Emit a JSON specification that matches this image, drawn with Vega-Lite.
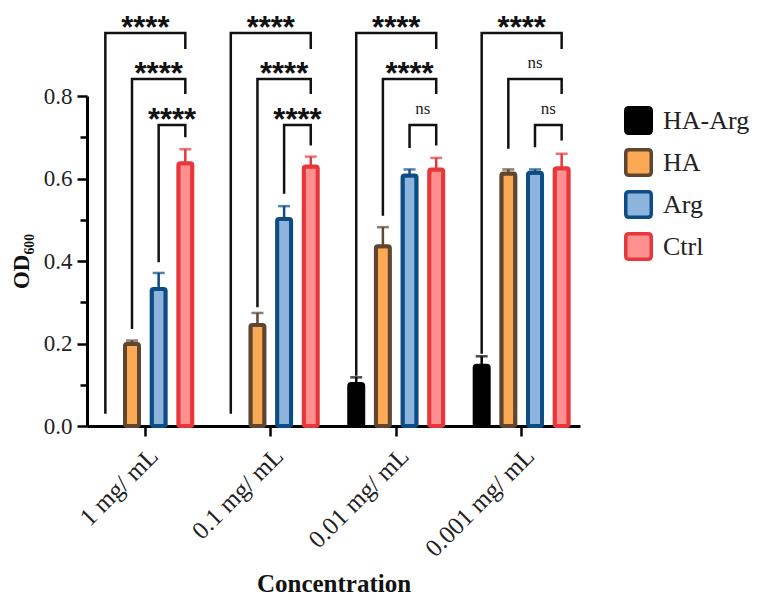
{
  "$schema": "https://vega.github.io/schema/vega-lite/v6.json",
  "width": 493,
  "height": 330,
  "padding": {"left": 10, "top": 12, "right": 5, "bottom": 5},
  "background": "white",
  "config": {
    "view": {"stroke": null},
    "font": "Liberation Serif",
    "axis": {"labelFont": "Liberation Serif", "titleFont": "Liberation Serif"},
    "legend": {"labelFont": "Liberation Serif"}
  },
  "datasets": {
    "bars": [
      {"conc": "1 mg/ mL", "tr": "HA", "od": 0.199, "upper": 0.207},
      {"conc": "1 mg/ mL", "tr": "Arg", "od": 0.332, "upper": 0.371},
      {"conc": "1 mg/ mL", "tr": "Ctrl", "od": 0.637, "upper": 0.671},
      {"conc": "0.1 mg/ mL", "tr": "HA", "od": 0.245, "upper": 0.274},
      {"conc": "0.1 mg/ mL", "tr": "Arg", "od": 0.502, "upper": 0.533},
      {"conc": "0.1 mg/ mL", "tr": "Ctrl", "od": 0.629, "upper": 0.653},
      {"conc": "0.01 mg/ mL", "tr": "HA-Arg", "od": 0.102, "upper": 0.118},
      {"conc": "0.01 mg/ mL", "tr": "HA", "od": 0.436, "upper": 0.482},
      {"conc": "0.01 mg/ mL", "tr": "Arg", "od": 0.607, "upper": 0.622},
      {"conc": "0.01 mg/ mL", "tr": "Ctrl", "od": 0.622, "upper": 0.650},
      {"conc": "0.001 mg/ mL", "tr": "HA-Arg", "od": 0.146, "upper": 0.169},
      {"conc": "0.001 mg/ mL", "tr": "HA", "od": 0.612, "upper": 0.622},
      {"conc": "0.001 mg/ mL", "tr": "Arg", "od": 0.614, "upper": 0.622},
      {"conc": "0.001 mg/ mL", "tr": "Ctrl", "od": 0.625, "upper": 0.660}
    ],
    "brackets": [
      {"b": "1a", "conc": "1 mg/ mL", "tr": "HA-Arg", "y": 0.03, "v": 1},
      {"b": "1a", "conc": "1 mg/ mL", "tr": "HA-Arg", "y": 0.953, "v": 2},
      {"b": "1a", "conc": "1 mg/ mL", "tr": "Ctrl", "y": 0.953, "v": 3},
      {"b": "1a", "conc": "1 mg/ mL", "tr": "Ctrl", "y": 0.914, "v": 4},
      {"b": "1b", "conc": "1 mg/ mL", "tr": "HA", "y": 0.235, "v": 1},
      {"b": "1b", "conc": "1 mg/ mL", "tr": "HA", "y": 0.841, "v": 2},
      {"b": "1b", "conc": "1 mg/ mL", "tr": "Ctrl", "y": 0.841, "v": 3},
      {"b": "1b", "conc": "1 mg/ mL", "tr": "Ctrl", "y": 0.805, "v": 4},
      {"b": "1c", "conc": "1 mg/ mL", "tr": "Arg", "y": 0.397, "v": 1},
      {"b": "1c", "conc": "1 mg/ mL", "tr": "Arg", "y": 0.730, "v": 2},
      {"b": "1c", "conc": "1 mg/ mL", "tr": "Ctrl", "y": 0.730, "v": 3},
      {"b": "1c", "conc": "1 mg/ mL", "tr": "Ctrl", "y": 0.700, "v": 4},
      {"b": "2a", "conc": "0.1 mg/ mL", "tr": "HA-Arg", "y": 0.03, "v": 1},
      {"b": "2a", "conc": "0.1 mg/ mL", "tr": "HA-Arg", "y": 0.953, "v": 2},
      {"b": "2a", "conc": "0.1 mg/ mL", "tr": "Ctrl", "y": 0.953, "v": 3},
      {"b": "2a", "conc": "0.1 mg/ mL", "tr": "Ctrl", "y": 0.914, "v": 4},
      {"b": "2b", "conc": "0.1 mg/ mL", "tr": "HA", "y": 0.288, "v": 1},
      {"b": "2b", "conc": "0.1 mg/ mL", "tr": "HA", "y": 0.841, "v": 2},
      {"b": "2b", "conc": "0.1 mg/ mL", "tr": "Ctrl", "y": 0.841, "v": 3},
      {"b": "2b", "conc": "0.1 mg/ mL", "tr": "Ctrl", "y": 0.805, "v": 4},
      {"b": "2c", "conc": "0.1 mg/ mL", "tr": "Arg", "y": 0.563, "v": 1},
      {"b": "2c", "conc": "0.1 mg/ mL", "tr": "Arg", "y": 0.730, "v": 2},
      {"b": "2c", "conc": "0.1 mg/ mL", "tr": "Ctrl", "y": 0.730, "v": 3},
      {"b": "2c", "conc": "0.1 mg/ mL", "tr": "Ctrl", "y": 0.680, "v": 4},
      {"b": "3a", "conc": "0.01 mg/ mL", "tr": "HA-Arg", "y": 0.122, "v": 1},
      {"b": "3a", "conc": "0.01 mg/ mL", "tr": "HA-Arg", "y": 0.953, "v": 2},
      {"b": "3a", "conc": "0.01 mg/ mL", "tr": "Ctrl", "y": 0.953, "v": 3},
      {"b": "3a", "conc": "0.01 mg/ mL", "tr": "Ctrl", "y": 0.914, "v": 4},
      {"b": "3b", "conc": "0.01 mg/ mL", "tr": "HA", "y": 0.51, "v": 1},
      {"b": "3b", "conc": "0.01 mg/ mL", "tr": "HA", "y": 0.841, "v": 2},
      {"b": "3b", "conc": "0.01 mg/ mL", "tr": "Ctrl", "y": 0.841, "v": 3},
      {"b": "3b", "conc": "0.01 mg/ mL", "tr": "Ctrl", "y": 0.805, "v": 4},
      {"b": "3c", "conc": "0.01 mg/ mL", "tr": "Arg", "y": 0.674, "v": 1},
      {"b": "3c", "conc": "0.01 mg/ mL", "tr": "Arg", "y": 0.730, "v": 2},
      {"b": "3c", "conc": "0.01 mg/ mL", "tr": "Ctrl", "y": 0.730, "v": 3},
      {"b": "3c", "conc": "0.01 mg/ mL", "tr": "Ctrl", "y": 0.680, "v": 4},
      {"b": "4a", "conc": "0.001 mg/ mL", "tr": "HA-Arg", "y": 0.175, "v": 1},
      {"b": "4a", "conc": "0.001 mg/ mL", "tr": "HA-Arg", "y": 0.953, "v": 2},
      {"b": "4a", "conc": "0.001 mg/ mL", "tr": "Ctrl", "y": 0.953, "v": 3},
      {"b": "4a", "conc": "0.001 mg/ mL", "tr": "Ctrl", "y": 0.914, "v": 4},
      {"b": "4b", "conc": "0.001 mg/ mL", "tr": "HA", "y": 0.672, "v": 1},
      {"b": "4b", "conc": "0.001 mg/ mL", "tr": "HA", "y": 0.841, "v": 2},
      {"b": "4b", "conc": "0.001 mg/ mL", "tr": "Ctrl", "y": 0.841, "v": 3},
      {"b": "4b", "conc": "0.001 mg/ mL", "tr": "Ctrl", "y": 0.805, "v": 4},
      {"b": "4c", "conc": "0.001 mg/ mL", "tr": "Arg", "y": 0.676, "v": 1},
      {"b": "4c", "conc": "0.001 mg/ mL", "tr": "Arg", "y": 0.730, "v": 2},
      {"b": "4c", "conc": "0.001 mg/ mL", "tr": "Ctrl", "y": 0.730, "v": 3},
      {"b": "4c", "conc": "0.001 mg/ mL", "tr": "Ctrl", "y": 0.692, "v": 4}
    ],
    "sig": [
      {"conc": "1 mg/ mL", "tr": "HA", "y": 0.953, "label": "****", "mid": true},
      {"conc": "1 mg/ mL", "tr": "Arg", "y": 0.841, "label": "****", "mid": false},
      {"conc": "1 mg/ mL", "tr": "Arg", "y": 0.730, "label": "****", "mid": true},
      {"conc": "0.1 mg/ mL", "tr": "HA", "y": 0.953, "label": "****", "mid": true},
      {"conc": "0.1 mg/ mL", "tr": "Arg", "y": 0.841, "label": "****", "mid": false},
      {"conc": "0.1 mg/ mL", "tr": "Arg", "y": 0.730, "label": "****", "mid": true},
      {"conc": "0.01 mg/ mL", "tr": "HA", "y": 0.953, "label": "****", "mid": true},
      {"conc": "0.01 mg/ mL", "tr": "Arg", "y": 0.841, "label": "****", "mid": false},
      {"conc": "0.01 mg/ mL", "tr": "Arg", "y": 0.730, "label": "ns", "mid": true},
      {"conc": "0.001 mg/ mL", "tr": "HA", "y": 0.953, "label": "****", "mid": true},
      {"conc": "0.001 mg/ mL", "tr": "Arg", "y": 0.841, "label": "ns", "mid": false},
      {"conc": "0.001 mg/ mL", "tr": "Arg", "y": 0.730, "label": "ns", "mid": true}
    ]
  },
  "encoding": {
    "x": {
      "field": "conc",
      "type": "nominal",
      "sort": ["1 mg/ mL", "0.1 mg/ mL", "0.01 mg/ mL", "0.001 mg/ mL"],
      "scale": {"paddingInner": 0.15, "paddingOuter": 0.04},
      "title": "Concentration",
      "axis": {
        "labelAngle": -45,
        "labelFont": "Liberation Serif",
        "labelFontSize": 25,
        "labelColor": "#222222",
        "labelPadding": 7,
        "tickSize": 10,
        "tickWidth": 2.5,
        "tickColor": "black",
        "domainWidth": 3,
        "domainColor": "black",
        "titleFont": "Liberation Serif",
        "titleFontSize": 25,
        "titleFontWeight": "bold",
        "titleColor": "#111111",
        "titlePadding": 10
      }
    },
    "xOffset": {
      "field": "tr",
      "type": "nominal",
      "scale": {"domain": ["HA-Arg", "HA", "Arg", "Ctrl"], "paddingInner": 0, "paddingOuter": 0}
    }
  },
  "layer": [
    {
      "data": {"name": "bars"},
      "mark": {"type": "bar", "width": 14, "strokeWidth": 4, "cornerRadius": 2},
      "encoding": {
        "y": {
          "field": "od",
          "type": "quantitative",
          "title": "OD₆₀₀",
          "scale": {"domain": [0, 0.8], "nice": false},
          "axis": {
            "values": [0, 0.1, 0.2, 0.3, 0.4, 0.5, 0.6, 0.7, 0.8],
            "labelExpr": "round(datum.value*10) % 2 == 0 ? format(datum.value, '.1f') : ''",
            "tickSize": {"condition": {"test": "round(datum.value*10) % 2 == 0", "value": 10}, "value": 7},
            "grid": false,
            "domainWidth": 3,
            "domainColor": "black",
            "tickColor": "black",
            "tickWidth": 2.5,
            "labelFont": "Liberation Serif",
            "labelFontSize": 23,
            "labelColor": "#222222",
            "labelPadding": 5,
            "titleFont": "Liberation Serif",
            "titleFontSize": 23,
            "titleFontWeight": "bold",
            "titleColor": "#111111",
            "titlePadding": 10
          }
        },
        "fill": {
          "field": "tr",
          "type": "nominal",
          "scale": {"domain": ["HA-Arg", "HA", "Arg", "Ctrl"], "range": ["#000000", "#FBA955", "#8DB4DC", "#FF9090"]},
          "legend": {
            "title": null,
            "offset": 34,
            "symbolType": "M-1,-0.75Q-1,-1,-0.75,-1L0.75,-1Q1,-1,1,-0.75L1,0.75Q1,1,0.75,1L-0.75,1Q-1,1,-1,0.75Z",
            "symbolSize": 650,
            "symbolStrokeWidth": 3.5,
            "labelFont": "Liberation Serif",
            "labelFontSize": 26,
            "labelColor": "#222222",
            "rowPadding": 1,
            "labelOffset": 10,
            "padding": 10
          }
        },
        "stroke": {
          "field": "tr",
          "type": "nominal",
          "scale": {"domain": ["HA-Arg", "HA", "Arg", "Ctrl"], "range": ["#000000", "#5E4630", "#0D4C84", "#E8373B"]},
          "legend": {
            "title": null,
            "offset": 34,
            "symbolType": "M-1,-0.75Q-1,-1,-0.75,-1L0.75,-1Q1,-1,1,-0.75L1,0.75Q1,1,0.75,1L-0.75,1Q-1,1,-1,0.75Z",
            "symbolSize": 650,
            "symbolStrokeWidth": 3.5,
            "labelFont": "Liberation Serif",
            "labelFontSize": 26,
            "labelColor": "#222222",
            "rowPadding": 1,
            "labelOffset": 10,
            "padding": 10
          }
        }
      }
    },
    {
      "data": {"name": "bars"},
      "mark": {"type": "rule", "strokeWidth": 2.5},
      "encoding": {
        "y": {"field": "od", "type": "quantitative", "title": "OD₆₀₀"},
        "y2": {"field": "upper"},
        "stroke": {"field": "tr", "type": "nominal"}
      }
    },
    {
      "data": {"name": "bars"},
      "mark": {"type": "tick", "size": 12, "thickness": 2.5},
      "encoding": {
        "y": {"field": "upper", "type": "quantitative", "title": "OD₆₀₀"},
        "color": {
          "field": "tr",
          "type": "nominal",
          "scale": {"domain": ["HA-Arg", "HA", "Arg", "Ctrl"], "range": ["#000000", "#5E4630", "#0D4C84", "#E8373B"]},
          "legend": null
        }
      }
    },
    {
      "data": {"name": "brackets"},
      "mark": {"type": "line", "color": "#111111", "strokeWidth": 2.5, "strokeJoin": "miter", "strokeCap": "butt"},
      "encoding": {
        "y": {"field": "y", "type": "quantitative", "title": "OD₆₀₀"},
        "order": {"field": "v", "type": "quantitative"},
        "detail": {"field": "b", "type": "nominal"}
      }
    },
    {
      "data": {"name": "sig"},
      "transform": [{"filter": "datum.label == '****' && datum.mid"}],
      "mark": {"type": "text", "font": "Liberation Sans", "fontWeight": "bold", "fontSize": 31, "baseline": "alphabetic", "dy": 5, "dx": 13.35, "color": "#111111"},
      "encoding": {
        "y": {"field": "y", "type": "quantitative", "title": "OD₆₀₀"},
        "text": {"field": "label"}
      }
    },
    {
      "data": {"name": "sig"},
      "transform": [{"filter": "datum.label == '****' && !datum.mid"}],
      "mark": {"type": "text", "font": "Liberation Sans", "fontWeight": "bold", "fontSize": 31, "baseline": "alphabetic", "dy": 5, "color": "#111111"},
      "encoding": {
        "y": {"field": "y", "type": "quantitative", "title": "OD₆₀₀"},
        "text": {"field": "label"}
      }
    },
    {
      "data": {"name": "sig"},
      "transform": [{"filter": "datum.label == 'ns' && datum.mid"}],
      "mark": {"type": "text", "font": "Liberation Serif", "fontSize": 17, "baseline": "alphabetic", "dy": -11, "dx": 13.35, "color": "#222222"},
      "encoding": {
        "y": {"field": "y", "type": "quantitative", "title": "OD₆₀₀"},
        "text": {"field": "label"}
      }
    },
    {
      "data": {"name": "sig"},
      "transform": [{"filter": "datum.label == 'ns' && !datum.mid"}],
      "mark": {"type": "text", "font": "Liberation Serif", "fontSize": 17, "baseline": "alphabetic", "dy": -11, "color": "#222222"},
      "encoding": {
        "y": {"field": "y", "type": "quantitative", "title": "OD₆₀₀"},
        "text": {"field": "label"}
      }
    }
  ]
}
